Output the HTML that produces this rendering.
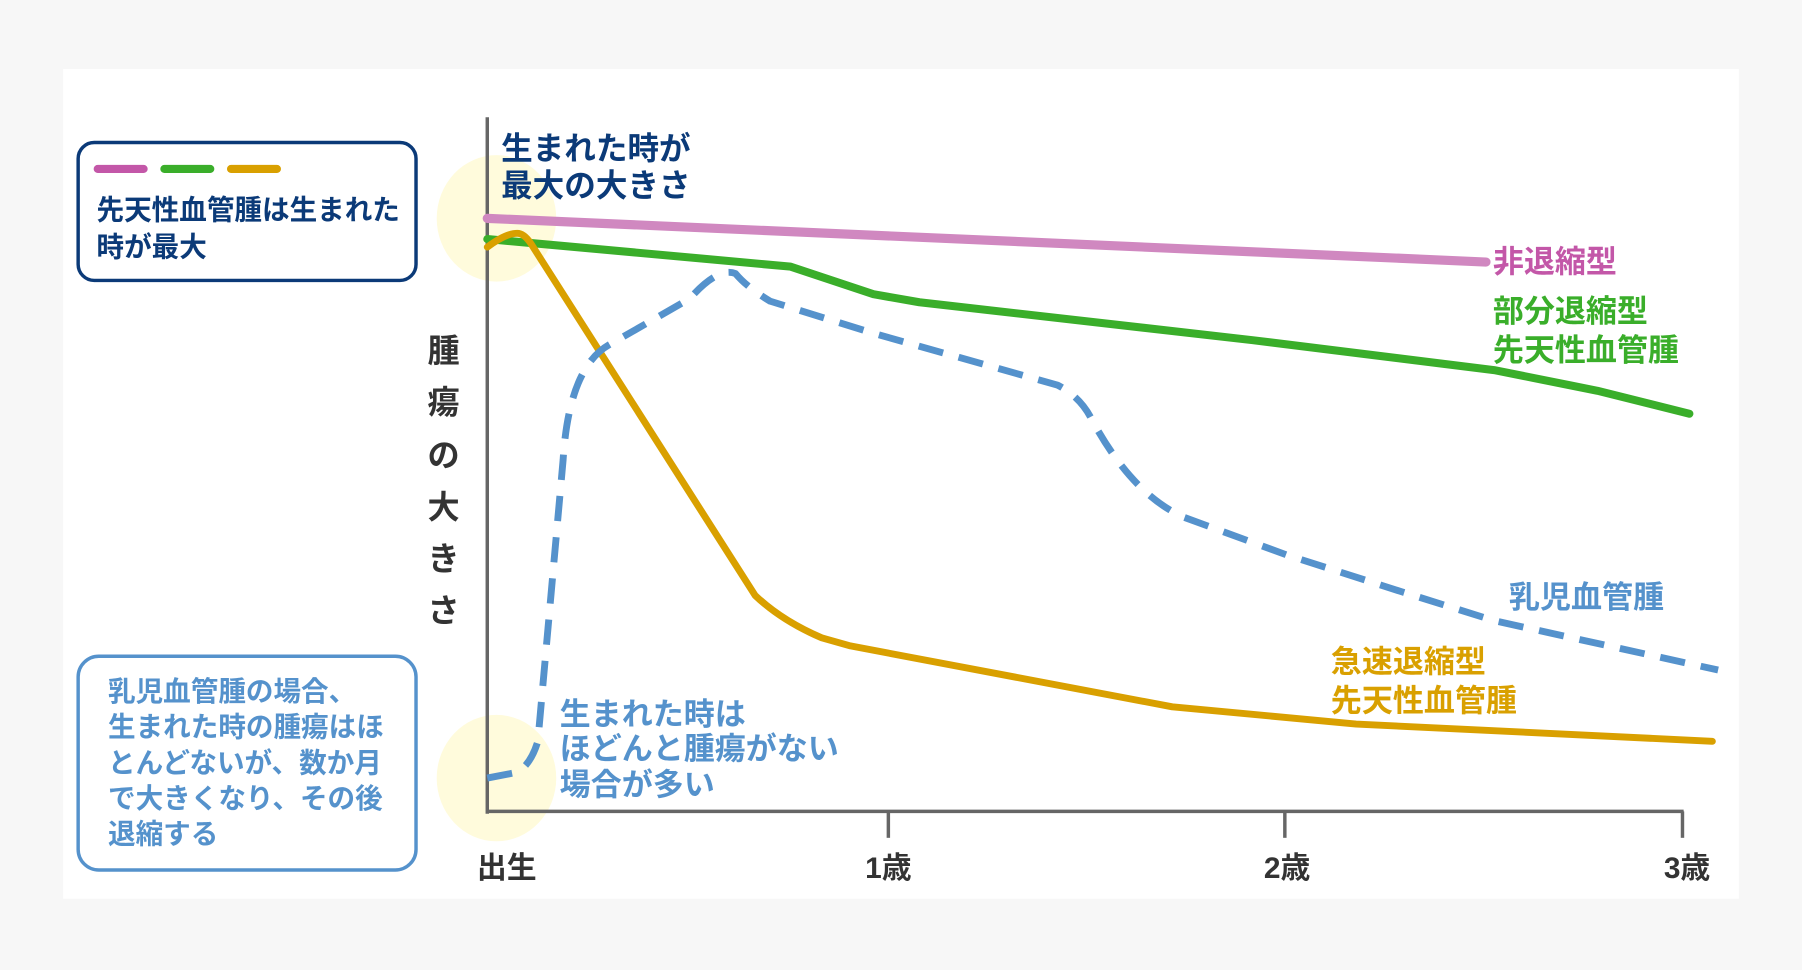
<!DOCTYPE html>
<html><head><meta charset="utf-8"><style>
html,body{margin:0;padding:0;background:#f7f7f7;}
svg{display:block;}
text{font-family:"Liberation Sans","Noto Sans CJK JP",sans-serif;font-weight:bold;}
</style></head><body>
<svg width="1802" height="970" viewBox="0 0 1568 844" preserveAspectRatio="none" xmlns="http://www.w3.org/2000/svg">
<rect x="0" y="0" width="1568" height="844" fill="#f7f7f7"/>
<rect x="55" y="60" width="1458" height="722" fill="#fff"/>
<ellipse cx="432" cy="190" rx="52" ry="55" fill="#fffbdc"/>
<ellipse cx="432" cy="677" rx="52" ry="55" fill="#fffbdc"/>
<g stroke="#666" stroke-width="3" fill="none">
<line x1="424" y1="102" x2="424" y2="708"/>
<line x1="424" y1="706" x2="1465" y2="706"/>
<line x1="773" y1="706" x2="773" y2="729"/>
<line x1="1118" y1="706" x2="1118" y2="729"/>
<line x1="1464" y1="706" x2="1464" y2="729"/>
</g>
<g font-size="26" fill="#333" text-anchor="middle">
<text x="441" y="764">出生</text><text x="773" y="764">1歳</text><text x="1120" y="764">2歳</text><text x="1468" y="764">3歳</text>
</g>
<g font-size="28" fill="#333" text-anchor="middle">
<text x="386" y="315">腫</text><text x="386" y="360">瘍</text><text x="386" y="406">の</text><text x="386" y="451">大</text><text x="386" y="496">き</text><text x="386" y="541">さ</text>
</g>
<g fill="none" stroke-linejoin="round" stroke-linecap="round">
<polyline points="424,190 1293,228" stroke="#d088c0" stroke-width="8"/>
<polyline points="424,208 688,232 760,256 800,263 1090,296 1300,322 1390,340 1470,360" stroke="#3aae2a" stroke-width="7"/>
<path d="M424,215 Q440,203 450,203 Q456,203 462,212 L657,518 Q680,540 715,555 L740,562 L1020,615 L1180,630 L1490,645" stroke="#d9a000" stroke-width="6"/>
<path d="M424,677 L450,672 Q462,665 468,645 L490,400 Q495,320 530,300 L600,260 Q625,232 640,238 Q650,250 670,262 L760,290 L920,335 Q940,345 950,365 Q985,430 1030,450 L1120,483 L1220,515 L1300,540 L1495,583" stroke="#5592cc" stroke-width="6" stroke-dasharray="22 14" stroke-linecap="butt"/>
</g>
<rect x="68" y="124" width="294" height="120" rx="14" fill="#fff" stroke="#0b3a78" stroke-width="3"/>
<g stroke-width="7" stroke-linecap="round">
<line x1="85" y1="147" x2="125" y2="147" stroke="#c357a8"/>
<line x1="143" y1="147" x2="183" y2="147" stroke="#3aae2a"/>
<line x1="201" y1="147" x2="241" y2="147" stroke="#d9a000"/>
</g>
<g font-size="24" fill="#0b3a78"><text x="84" y="191">先天性血管腫は生まれた</text><text x="84" y="223">時が最大</text></g>
<rect x="68" y="571" width="294" height="186" rx="18" fill="#fff" stroke="#5592cc" stroke-width="3"/>
<g font-size="24" fill="#5592cc">
<text x="94" y="610">乳児血管腫の場合、</text><text x="94" y="641">生まれた時の腫瘍はほ</text><text x="94" y="672">とんどないが、数か月</text><text x="94" y="703">で大きくなり、その後</text><text x="94" y="734">退縮する</text>
</g>
<g font-size="27.5" fill="#0b3a78"><text x="436" y="139">生まれた時が</text><text x="436" y="171">最大の大きさ</text></g>
<g font-size="27">
<text x="1299" y="237" fill="#c357a8">非退縮型</text>
<text x="1299" y="280" fill="#3aae2a">部分退縮型</text>
<text x="1299" y="314" fill="#3aae2a">先天性血管腫</text>
<text x="1313" y="529" fill="#5592cc">乳児血管腫</text>
<text x="1158" y="585" fill="#d9a000">急速退縮型</text>
<text x="1158" y="619" fill="#d9a000">先天性血管腫</text>
<text x="487" y="631" fill="#5592cc">生まれた時は</text>
<text x="487" y="661" fill="#5592cc">ほどんと腫瘍がない</text>
<text x="487" y="692" fill="#5592cc">場合が多い</text>
</g>
</svg>
</body></html>
